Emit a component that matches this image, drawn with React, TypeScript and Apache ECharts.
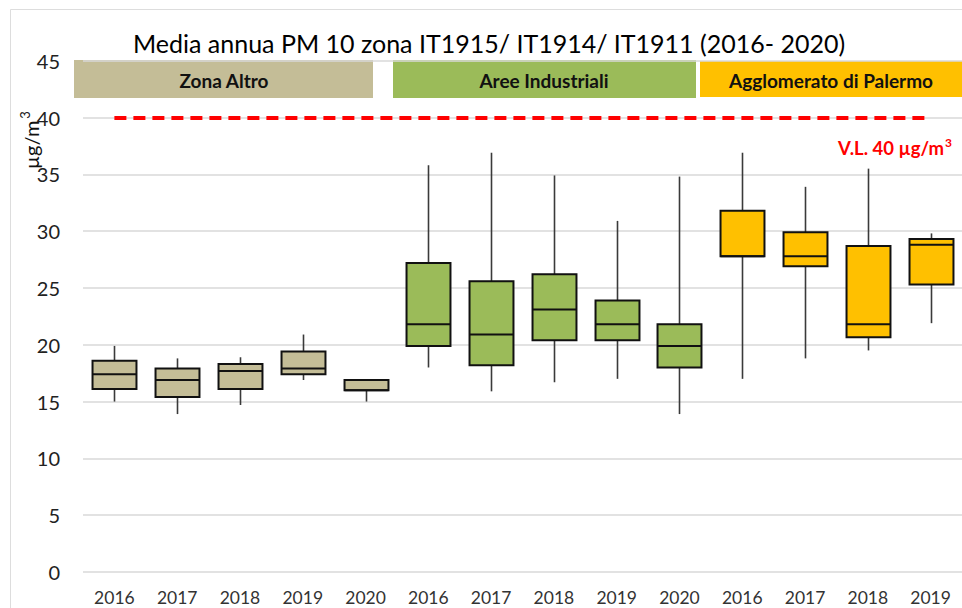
import React, { useEffect, useRef } from "react";
import * as echarts from "echarts";

const categories = ["2016", "2017", "2018", "2019", "2020", "2016", "2017", "2018", "2019", "2020", "2016", "2017", "2018", "2019"];
const yTicks = [0, 5, 10, 15, 20, 25, 30, 35, 40, 45];
// [min, Q1, median, Q3, max]
const zonaAltro = [
  [15, 16.1, 17.4, 18.6, 19.9],
  [13.9, 15.4, 16.9, 17.9, 18.8],
  [14.7, 16.1, 17.7, 18.3, 18.9],
  [16.9, 17.4, 17.9, 19.4, 20.9],
  [15, 16, 16, 16.9, 16.9],
];
const areeIndustriali = [
  [18, 19.9, 21.8, 27.2, 35.8],
  [15.9, 18.2, 20.9, 25.6, 36.9],
  [16.7, 20.4, 23.1, 26.2, 34.9],
  [17, 20.4, 21.8, 23.9, 30.9],
  [13.9, 18, 19.9, 21.8, 34.8],
];
const palermo = [
  [17, 27.8, 27.8, 31.8, 36.9],
  [18.8, 26.9, 27.8, 29.9, 33.9],
  [19.5, 20.65, 21.8, 28.7, 35.5],
  [21.9, 25.3, 28.8, 29.3, 29.8],
];
const limitValue = 40;
const groupNames = ["Zona Altro", "Aree Industriali", "Agglomerato di Palermo"];
const groupColors = ["#C4BD97", "#9BBB59", "#FFC000"];

const FONT = "Lato, 'Open Sans', sans-serif";

function makeSeries(name: string, values: number[][], offset: number, color: string, extra: any = {}) {
  return {
    type: "custom",
    name,
    data: values.map((v, i) => [offset + i, ...v]),
    encode: { x: 0, y: [1, 2, 3, 4, 5] },
    renderItem: (params: any, api: any) => {
      const idx = api.value(0);
      const pMin = api.coord([idx, api.value(1)]);
      const pQ1 = api.coord([idx, api.value(2)]);
      const pMed = api.coord([idx, api.value(3)]);
      const pQ3 = api.coord([idx, api.value(4)]);
      const pMax = api.coord([idx, api.value(5)]);
      const cx = Math.round(pMin[0]) + 0.5;
      const w = api.size([1, 0])[0] * 0.7;
      return {
        type: "group",
        children: [
          { type: "line", shape: { x1: cx, y1: pMax[1], x2: cx, y2: pQ3[1] }, style: { stroke: "#3a3a3a", lineWidth: 1.6 } },
          { type: "line", shape: { x1: cx, y1: pQ1[1], x2: cx, y2: pMin[1] }, style: { stroke: "#3a3a3a", lineWidth: 1.6 } },
          {
            type: "rect",
            shape: { x: cx - w / 2, y: pQ3[1], width: w, height: pQ1[1] - pQ3[1] },
            style: { fill: color, stroke: "#111", lineWidth: 2 },
          },
          { type: "line", shape: { x1: cx - w / 2, y1: pMed[1], x2: cx + w / 2, y2: pMed[1] }, style: { stroke: "#111", lineWidth: 2 } },
        ],
      };
    },
    ...extra,
  };
}

export default function App() {
  const ref = useRef<HTMLDivElement>(null);
  useEffect(() => {
    const chart = echarts.init(ref.current!, null, { renderer: "svg" });
    const bandY = 60;
    const bandH = 38;
    chart.setOption({
      animation: false,
      backgroundColor: "#fff",
      grid: { left: 83, right: 0, top: 60.7, bottom: 36, containLabel: false },
      xAxis: {
        type: "category",
        data: categories,
        axisLine: { show: false },
        axisTick: { show: false },
        axisLabel: { fontFamily: FONT, fontSize: 17.5, color: "#333", margin: 16 },
      },
      yAxis: {
        type: "value",
        min: yTicks[0],
        max: yTicks[yTicks.length - 1],
        interval: 5,
        axisLine: { show: false },
        axisTick: { show: false },
        axisLabel: { fontFamily: FONT, fontSize: 20, color: "#222", margin: 23 },
        splitLine: { lineStyle: { color: "#D9D9D9", width: 1.5 } },
      },
      graphic: [
        { type: "rect", shape: { x: 10.5, y: 9.5, width: 1000, height: 700 }, style: { fill: "none", stroke: "#DDDDDD", lineWidth: 1 }, silent: true },
        {
          type: "text",
          x: 489,
          y: 43,
          style: {
            text: "Media annua PM 10 zona IT1915/ IT1914/ IT1911 (2016- 2020)",
            font: `25px ${FONT}`,
            fill: "#000",
            align: "center",
            verticalAlign: "middle",
          },
        },
        { type: "rect", shape: { x: 74, y: bandY, width: 299, height: bandH }, style: { fill: groupColors[0] } },
        { type: "rect", shape: { x: 393, y: bandY, width: 303, height: bandH }, style: { fill: groupColors[1] } },
        { type: "rect", shape: { x: 700, y: bandY + 1, width: 270, height: bandH - 2 }, style: { fill: groupColors[2] } },
        {
          type: "text",
          x: 224,
          y: bandY + bandH / 2 + 1,
          style: { text: groupNames[0], font: `bold 19px ${FONT}`, fill: "#111", align: "center", verticalAlign: "middle" },
        },
        {
          type: "text",
          x: 544,
          y: bandY + bandH / 2 + 1,
          style: { text: groupNames[1], font: `bold 19px ${FONT}`, fill: "#111", align: "center", verticalAlign: "middle" },
        },
        {
          type: "text",
          x: 831,
          y: bandY + bandH / 2 + 1,
          style: { text: groupNames[2], font: `bold 19px ${FONT}`, fill: "#111", align: "center", verticalAlign: "middle" },
        },
        {
          type: "text",
          x: 952,
          y: 148,
          style: {
            text: "V.L. 40 µg/m{sup|3}",
            font: `bold 18.5px ${FONT}`,
            fill: "#FF0000",
            align: "right",
            verticalAlign: "middle",
            rich: { sup: { fontFamily: FONT, fontWeight: "bold", fontSize: 12, fill: "#FF0000", padding: [0, 0, 12, 1] } },
          },
        },
        {
          type: "text",
          x: 31,
          y: 140,
          rotation: Math.PI / 2,
          style: {
            text: "µg/m{sup|3}",
            font: `20px ${FONT}`,
            fill: "#111",
            align: "center",
            verticalAlign: "middle",
            rich: { sup: { fontFamily: FONT, fontSize: 13, fill: "#111", padding: [0, 0, 12, 2] } },
          },
        },
      ],
      series: [
        makeSeries(groupNames[0], zonaAltro, 0, groupColors[0], {
          markLine: {
            silent: true,
            symbol: "none",
            label: { show: false },
            lineStyle: { color: "#FF0000", width: 4, type: [12, 7] },
            data: [[{ coord: [0, limitValue] }, { coord: [categories.length - 1, limitValue] }]],
          },
        }),
        makeSeries(groupNames[1], areeIndustriali, zonaAltro.length, groupColors[1]),
        makeSeries(groupNames[2], palermo, zonaAltro.length + areeIndustriali.length, groupColors[2]),
      ],
    });
    return () => chart.dispose();
  }, []);
  return <div ref={ref} style={{ position: "fixed", left: 0, top: 0, width: 962, height: 608 }} />;
}
